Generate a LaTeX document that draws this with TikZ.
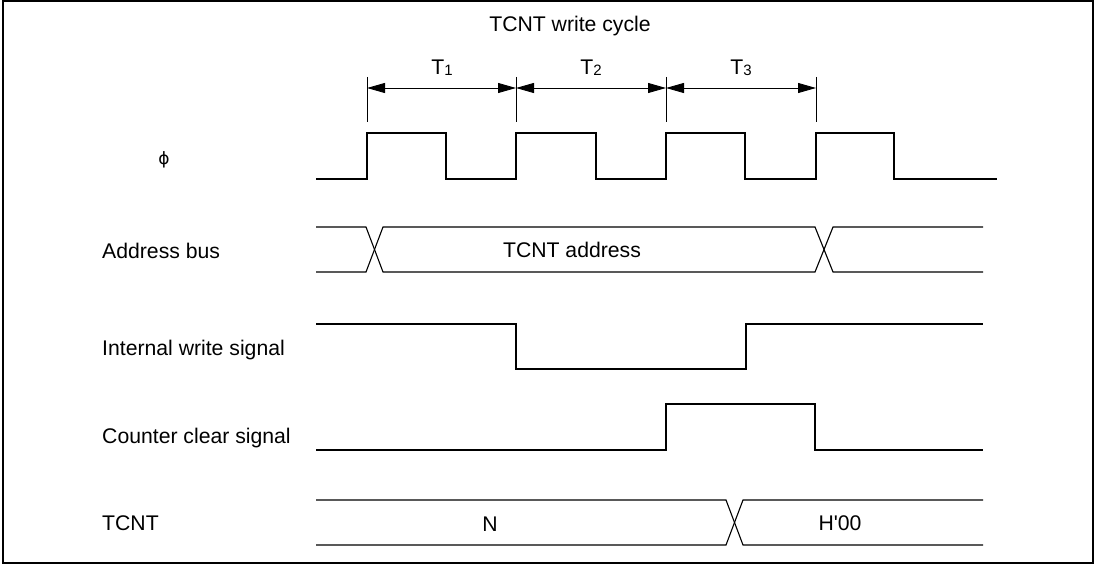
\documentclass[tikz,border=0pt]{standalone}
\usepackage{fontspec}
\setmainfont{Liberation Sans}
\newfontfamily\symfont{DejaVu Sans}
\usepackage{tikz}
\usetikzlibrary{arrows.meta}

\newcommand{\tsub}[1]{T{\fontsize{15}{15}\selectfont\raisebox{-1pt}{#1}}}

\begin{document}
\begin{tikzpicture}[x=1pt, y=-1pt,
    lbl/.style={font=\fontsize{21.2}{25}\selectfont, inner sep=0pt, anchor=base west},
    txt/.style={font=\fontsize{21.2}{25}\selectfont, inner sep=0pt, anchor=base},
    wave/.style={line width=1.1pt, line join=miter},
    tick/.style={line width=0.8pt},
    dim/.style={{Triangle[length=18pt,width=10pt]}-{Triangle[length=18pt,width=10pt]}, line width=0.8pt}
]
\useasboundingbox (0,0) rectangle (1099,564);

% Frame
\draw[line width=1.4pt] (3,1) rectangle (1093,563);

% Title and cycle states
\node[txt] (title) at (570,32) {TCNT write cycle};
\coordinate (e1) at (367,88);
\coordinate (e2) at (516,88);
\coordinate (e3) at (666,88);
\coordinate (e4) at (816,88);
\foreach \x in {367,516,666,816}
    \draw[tick] (\x,77) -- (\x,122);
\draw[dim] (e1) -- (e2);
\draw[dim] (e2) -- (e3);
\draw[dim] (e3) -- (e4);
\node[txt] (t1) at (442,75) {\tsub{1}};
\node[txt] (t2) at (591,75) {\tsub{2}};
\node[txt] (t3) at (741,75) {\tsub{3}};

% Signal names
\node[font=\symfont\fontsize{17}{17}\selectfont, inner sep=0pt] (phi) at (164,160) {ϕ};
\node[lbl] (addr) at (102,258) {Address bus};
\node[lbl] (wr) at (102,355) {Internal write signal};
\node[lbl] (clr) at (102,443) {Counter clear signal};
\node[lbl] (tcnt) at (102,530) {TCNT};

% Clock
\draw[wave] (316,179) -- (367,179) -- (367,133) -- (446,133) -- (446,179)
    -- (516,179) -- (516,133) -- (596,133) -- (596,179)
    -- (666,179) -- (666,133) -- (745,133) -- (745,179)
    -- (816,179) -- (816,133) -- (894,133) -- (894,179) -- (997,179);

% Address bus
\draw[wave] (316,227) -- (366,227) -- (383,272) -- (815,272) -- (833,227) -- (983,227);
\draw[wave] (316,272) -- (366,272) -- (383,227) -- (815,227) -- (833,272) -- (983,272);
\node[txt] (addrval) at (572,257) {TCNT address};

% Internal write signal
\draw[wave] (316,324) -- (516,324) -- (516,369) -- (746,369) -- (746,324) -- (983,324);

% Counter clear signal
\draw[wave] (316,450) -- (666,450) -- (666,404) -- (815,404) -- (815,450) -- (983,450);

% TCNT
\draw[wave] (316,500) -- (726,500) -- (743,545) -- (983,545);
\draw[wave] (316,545) -- (726,545) -- (743,500) -- (983,500);
\node[txt] (nval) at (490,531) {N};
\node[txt] (hval) at (840,530) {H\textquotesingle 00};

\end{tikzpicture}
\end{document}
